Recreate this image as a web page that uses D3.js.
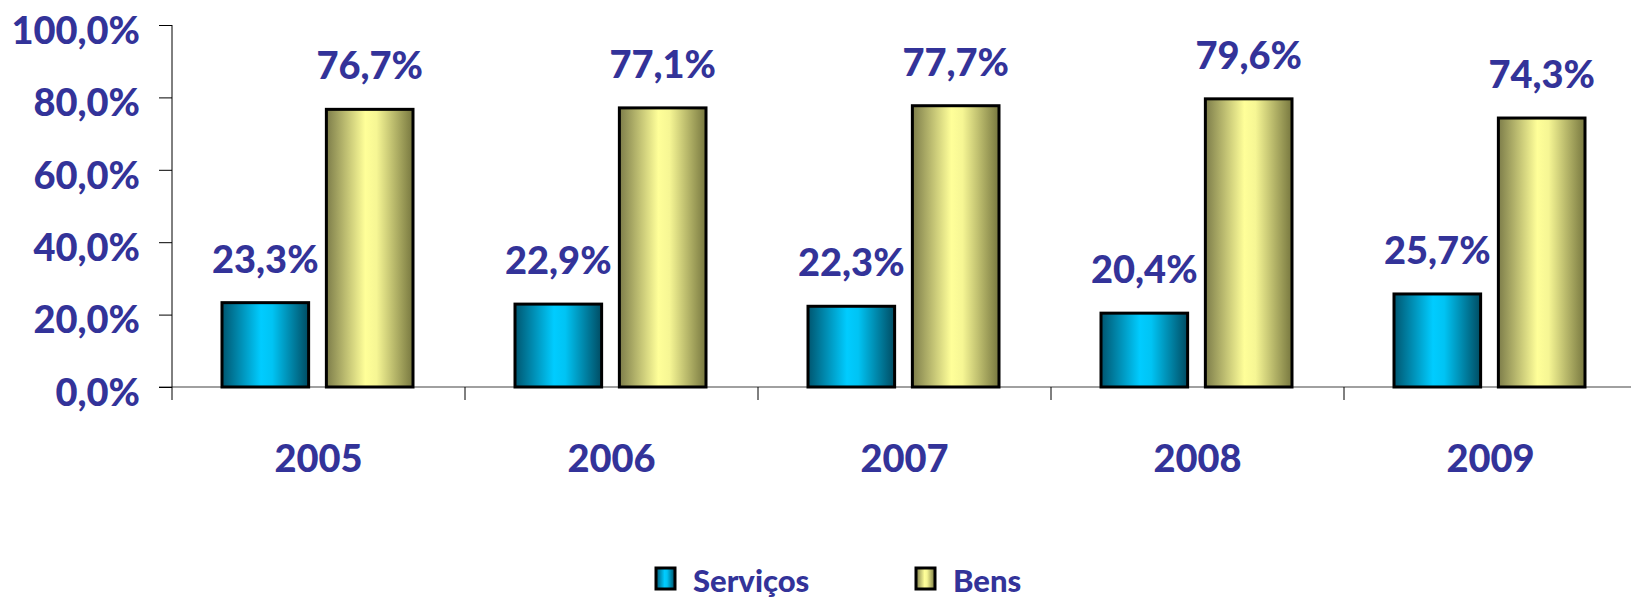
<!DOCTYPE html>
<html>
<head>
<meta charset="utf-8">
<script src="https://cdn.jsdelivr.net/npm/d3@7"></script>
<style>
  body { margin: 0; background: #fff; }
  text { font-family: Lato, "Open Sans", sans-serif; font-weight: 900; fill: #333399; }
</style>
</head>
<body>
<svg id="chart"></svg>
<script>
const years = ["2005", "2006", "2007", "2008", "2009"]
const seriesNames = ["Serviços", "Bens"]
const servicos = [23.3, 22.9, 22.3, 20.4, 25.7]
const bens = [76.7, 77.1, 77.7, 79.6, 74.3]
const yTicks = [0, 20, 40, 60, 80, 100]

const dimensions = {
  width: 1631,
  height: 600,
  margin: { top: 25, left: 172, bottom: 213 },
  band: 293,
}

const svg = d3.select("#chart")
  .attr("width", dimensions.width)
  .attr("height", dimensions.height)

// gradients like the old excel bars
const defs = svg.append("defs")
const grads = [
  { id: "gServ", stops: [["0%", "#005670"], ["45%", "#00ccff"], ["58%", "#00c4f4"], ["100%", "#004c63"]] },
  { id: "gBens", stops: [["0%", "#7d7d4a"], ["45%", "#ffff99"], ["58%", "#f6f694"], ["100%", "#77773f"]] },
]
grads.forEach(g => {
  const lg = defs.append("linearGradient").attr("id", g.id)
    .attr("x1", "0%").attr("x2", "100%").attr("y1", "0%").attr("y2", "0%")
  g.stops.forEach(s => lg.append("stop").attr("offset", s[0]).attr("stop-color", s[1]))
})
const fills = ["url(#gServ)", "url(#gBens)"]

const dataset = years.map((y, i) => ({ year: y, values: [servicos[i], bens[i]] }))

const x0 = d3.scaleBand()
  .domain(years)
  .range([dimensions.margin.left, dimensions.margin.left + dimensions.band * years.length])
  .padding(0)

const x1 = d3.scaleBand()
  .domain(seriesNames)
  .range([50, 241])
  .paddingInner(0.17)

const yScale = d3.scaleLinear()
  .domain([0, 100])
  .range([dimensions.height - dimensions.margin.bottom, dimensions.margin.top])

const fmt = d => d.toFixed(1).replace(".", ",") + "%"

// x axis line (gray) + category boundary ticks
svg.append("line")
  .attr("x1", dimensions.margin.left - 13)
  .attr("x2", dimensions.width)
  .attr("y1", yScale(0))
  .attr("y2", yScale(0))
  .attr("stroke", "#808080")
  .attr("stroke-width", 1.5)

svg.append("g")
  .selectAll("line")
  .data(years.slice(1).concat(["end"]))
  .enter()
  .append("line")
  .attr("x1", d => d == "end" ? x0.range()[1] : x0(d))
  .attr("x2", d => d == "end" ? x0.range()[1] : x0(d))
  .attr("y1", yScale(0))
  .attr("y2", yScale(0) + 13)
  .attr("stroke", "black")

// y axis
const yAxis = d3.axisLeft(yScale)
  .tickValues(yTicks)
  .tickSize(13)
  .tickPadding(19)
  .tickFormat(fmt)

const yAxisGroup = svg.append("g")
  .attr("transform", `translate(${dimensions.margin.left},0)`)
  .call(yAxis)
yAxisGroup.select(".domain").remove()
yAxisGroup.selectAll(".tick line").attr("stroke", "black")
yAxisGroup.selectAll("text")
  .attr("dy", "0.48em")
  .style("font-size", "38px")
  .attr("fill", "#333399")
  .attr("font-family", null)

svg.append("line")
  .attr("x1", dimensions.margin.left)
  .attr("x2", dimensions.margin.left)
  .attr("y1", yScale(100))
  .attr("y2", yScale(0) + 13)
  .attr("stroke", "black")

// year labels
const xAxisGroup = svg.append("g")
  .attr("transform", `translate(0,${yScale(0)})`)
  .call(d3.axisBottom(x0).tickSize(0).tickPadding(58))
xAxisGroup.select(".domain").remove()
xAxisGroup.selectAll("text")
  .style("font-size", "38px")
  .attr("fill", "#333399")
  .attr("font-family", null)

// bars
const groups = svg.append("g")
  .selectAll("g")
  .data(dataset)
  .enter()
  .append("g")
  .attr("transform", d => `translate(${x0(d.year)},0)`)

groups.selectAll("rect")
  .data(d => d.values)
  .enter()
  .append("rect")
  .attr("x", (d, i) => x1(seriesNames[i]))
  .attr("y", d => yScale(d))
  .attr("width", x1.bandwidth())
  .attr("height", d => yScale(0) - yScale(d))
  .attr("fill", (d, i) => fills[i])
  .attr("stroke", "black")
  .attr("stroke-width", 3)

groups.selectAll("text.val")
  .data(d => d.values)
  .enter()
  .append("text")
  .attr("class", "val")
  .attr("x", (d, i) => x1(seriesNames[i]) + x1.bandwidth() / 2)
  .attr("y", d => yScale(d) - 30)
  .attr("text-anchor", "middle")
  .style("font-size", "38px")
  .text(fmt)

// legend
const legendX = [656, 916]
const legend = svg.append("g")
legend.selectAll("rect")
  .data(seriesNames)
  .enter()
  .append("rect")
  .attr("x", (d, i) => legendX[i])
  .attr("y", 568)
  .attr("width", 19)
  .attr("height", 21)
  .attr("fill", (d, i) => fills[i])
  .attr("stroke", "black")
  .attr("stroke-width", 3)

legend.selectAll("text")
  .data(seriesNames)
  .enter()
  .append("text")
  .attr("x", (d, i) => legendX[i] + 37)
  .attr("y", 592)
  .style("font-size", "31px")
  .text(d => d)
</script>
</body>
</html>
